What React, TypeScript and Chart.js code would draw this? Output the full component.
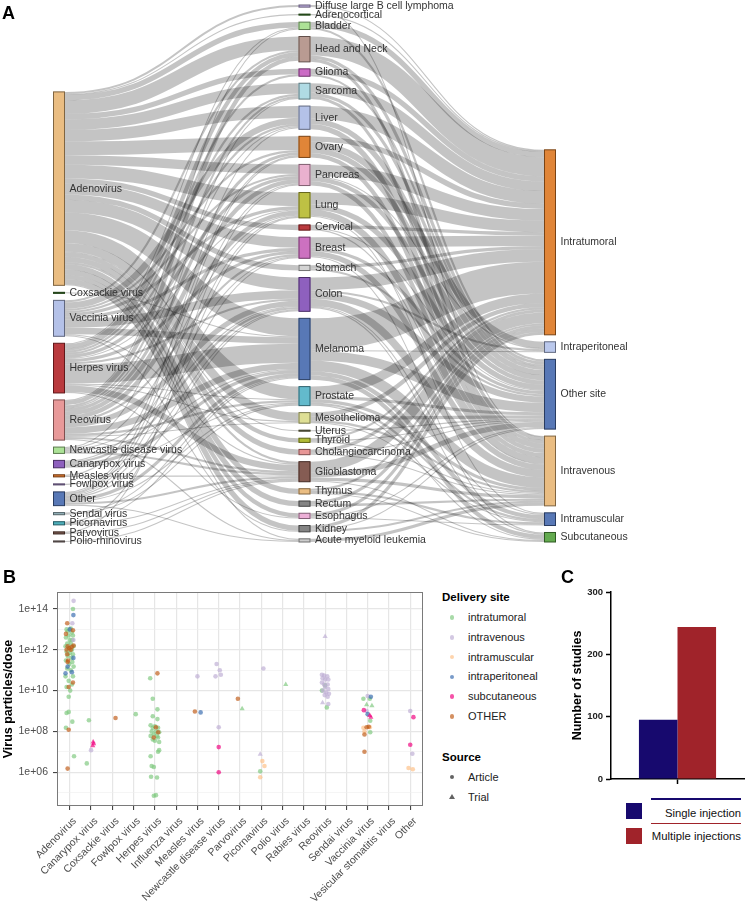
import React, { useEffect, useRef } from "react";
import { Chart, registerables } from "chart.js";

Chart.register(...registerables);

const FONT = "'Liberation Sans', Arial, Helvetica, sans-serif";

// ---------------- Panel A: Sankey data ----------------
const viruses = [
  "Adenovirus", "Coxsackie virus", "Vaccinia virus", "Herpes virus", "Reovirus",
  "Newcastle disease virus", "Canarypox virus", "Measles virus", "Fowlpox virus", "Other",
  "Sendai virus", "Picornavirus", "Parvovirus", "Polio-rhinovirus",
];
const virusColors = [
  "#e8b777", "#3d7a2e", "#aebce6", "#b3292e", "#e69090", "#a5e08e", "#8452b8",
  "#d2691e", "#a48ac8", "#4a6db0", "#8fb0b8", "#3fa8b5", "#6e4a40", "#8a7a78",
];
const cancers = [
  "Diffuse large B cell lymphoma", "Adrenocortical", "Bladder", "Head and Neck", "Glioma",
  "Sarcoma", "Liver", "Ovary", "Pancreas", "Lung", "Cervical", "Breast", "Stomach", "Colon",
  "Melanoma", "Prostate", "Mesothelioma", "Uterus", "Thyroid", "Cholangiocarcinoma",
  "Glioblastoma", "Thymus", "Rectum", "Esophagus", "Kidney", "Acute myeloid leukemia",
];
const cancerColors = [
  "#b9a7dc", "#3e7d2b", "#a6e08d", "#b39289", "#c75fc0", "#a9d8e2", "#aebde6", "#dd7b27",
  "#e8aacb", "#b9bc34", "#b3292e", "#c865bb", "#cfcfcf", "#8452b8", "#4a6db0", "#56b4c8",
  "#dbdc8c", "#7a7a55", "#aab526", "#e68e8e", "#7b4e44", "#e8b777", "#7a7a7a", "#eaa8d4",
  "#7a7a7a", "#c8c8c8",
];
const sites = ["Intratumoral", "Intraperitoneal", "Other site", "Intravenous", "Intramuscular", "Subcutaneous"];
const siteColors = ["#dd7b27", "#b4c3ea", "#4a6db0", "#e8b777", "#4a6db0", "#56a340"];

const virusCancerLinks: [string, string, number][] = [
  ["Adenovirus", "Diffuse large B cell lymphoma", 2], ["Adenovirus", "Adrenocortical", 1],
  ["Adenovirus", "Bladder", 5], ["Adenovirus", "Head and Neck", 13], ["Adenovirus", "Glioma", 5],
  ["Adenovirus", "Sarcoma", 10], ["Adenovirus", "Liver", 11], ["Adenovirus", "Ovary", 13],
  ["Adenovirus", "Pancreas", 9], ["Adenovirus", "Lung", 13], ["Adenovirus", "Cervical", 5],
  ["Adenovirus", "Breast", 10], ["Adenovirus", "Stomach", 5], ["Adenovirus", "Colon", 12],
  ["Adenovirus", "Melanoma", 17], ["Adenovirus", "Prostate", 12], ["Adenovirus", "Mesothelioma", 8],
  ["Adenovirus", "Uterus", 1], ["Adenovirus", "Thyroid", 4], ["Adenovirus", "Cholangiocarcinoma", 5],
  ["Adenovirus", "Glioblastoma", 2], ["Adenovirus", "Thymus", 5], ["Adenovirus", "Rectum", 5],
  ["Adenovirus", "Esophagus", 4], ["Adenovirus", "Kidney", 5], ["Adenovirus", "Acute myeloid leukemia", 1],
  ["Coxsackie virus", "Melanoma", 1],
  ["Vaccinia virus", "Liver", 6], ["Vaccinia virus", "Colon", 8], ["Vaccinia virus", "Melanoma", 6],
  ["Vaccinia virus", "Lung", 3], ["Vaccinia virus", "Breast", 3], ["Vaccinia virus", "Pancreas", 2],
  ["Vaccinia virus", "Head and Neck", 2], ["Vaccinia virus", "Kidney", 1], ["Vaccinia virus", "Glioblastoma", 1],
  ["Vaccinia virus", "Ovary", 2],
  ["Herpes virus", "Melanoma", 18], ["Herpes virus", "Head and Neck", 4], ["Herpes virus", "Glioblastoma", 6],
  ["Herpes virus", "Pancreas", 3], ["Herpes virus", "Breast", 3], ["Herpes virus", "Liver", 2],
  ["Herpes virus", "Colon", 2], ["Herpes virus", "Glioma", 2], ["Herpes virus", "Sarcoma", 2],
  ["Herpes virus", "Bladder", 1], ["Herpes virus", "Esophagus", 1], ["Herpes virus", "Prostate", 1],
  ["Herpes virus", "Lung", 1], ["Herpes virus", "Mesothelioma", 1],
  ["Reovirus", "Melanoma", 6], ["Reovirus", "Colon", 5], ["Reovirus", "Lung", 4], ["Reovirus", "Pancreas", 4],
  ["Reovirus", "Head and Neck", 4], ["Reovirus", "Ovary", 3], ["Reovirus", "Glioblastoma", 2],
  ["Reovirus", "Breast", 2], ["Reovirus", "Prostate", 2], ["Reovirus", "Sarcoma", 2], ["Reovirus", "Liver", 1],
  ["Reovirus", "Bladder", 1], ["Reovirus", "Mesothelioma", 1], ["Reovirus", "Acute myeloid leukemia", 1],
  ["Newcastle disease virus", "Glioblastoma", 2], ["Newcastle disease virus", "Melanoma", 1],
  ["Newcastle disease virus", "Colon", 1], ["Newcastle disease virus", "Sarcoma", 1], ["Newcastle disease virus", "Lung", 1],
  ["Canarypox virus", "Melanoma", 3], ["Canarypox virus", "Colon", 2], ["Canarypox virus", "Breast", 1],
  ["Canarypox virus", "Prostate", 1],
  ["Measles virus", "Ovary", 1], ["Measles virus", "Glioblastoma", 1],
  ["Fowlpox virus", "Colon", 1],
  ["Other", "Melanoma", 3], ["Other", "Glioblastoma", 2], ["Other", "Liver", 1], ["Other", "Breast", 1],
  ["Other", "Prostate", 1], ["Other", "Colon", 1], ["Other", "Lung", 1], ["Other", "Ovary", 1],
  ["Other", "Pancreas", 1], ["Other", "Acute myeloid leukemia", 1],
  ["Sendai virus", "Melanoma", 1], ["Sendai virus", "Prostate", 1],
  ["Picornavirus", "Melanoma", 1], ["Picornavirus", "Lung", 1], ["Picornavirus", "Glioblastoma", 1],
  ["Parvovirus", "Glioblastoma", 1], ["Parvovirus", "Pancreas", 1],
  ["Polio-rhinovirus", "Glioblastoma", 1],
];

const cancerSiteLinks: [string, string, number][] = [
  ["Diffuse large B cell lymphoma", "Intratumoral", 1], ["Diffuse large B cell lymphoma", "Intravenous", 1],
  ["Adrenocortical", "Intratumoral", 1],
  ["Bladder", "Intratumoral", 5], ["Bladder", "Other site", 2],
  ["Head and Neck", "Intratumoral", 18], ["Head and Neck", "Intravenous", 3], ["Head and Neck", "Other site", 3],
  ["Glioma", "Intratumoral", 5], ["Glioma", "Other site", 2],
  ["Sarcoma", "Intratumoral", 9], ["Sarcoma", "Intravenous", 3], ["Sarcoma", "Other site", 3],
  ["Liver", "Intratumoral", 12], ["Liver", "Intravenous", 5], ["Liver", "Other site", 5],
  ["Ovary", "Intraperitoneal", 6], ["Ovary", "Intratumoral", 5], ["Ovary", "Intravenous", 4], ["Ovary", "Other site", 5],
  ["Pancreas", "Intratumoral", 11], ["Pancreas", "Intravenous", 4], ["Pancreas", "Other site", 4], ["Pancreas", "Intraperitoneal", 1],
  ["Lung", "Intratumoral", 11], ["Lung", "Intravenous", 6], ["Lung", "Other site", 5], ["Lung", "Intramuscular", 1],
  ["Cervical", "Intratumoral", 3], ["Cervical", "Intravenous", 1], ["Cervical", "Other site", 1],
  ["Breast", "Intratumoral", 10], ["Breast", "Intravenous", 5], ["Breast", "Other site", 3], ["Breast", "Subcutaneous", 1],
  ["Stomach", "Intratumoral", 3], ["Stomach", "Other site", 2],
  ["Colon", "Intratumoral", 12], ["Colon", "Intravenous", 7], ["Colon", "Other site", 6], ["Colon", "Intraperitoneal", 2],
  ["Colon", "Intramuscular", 1], ["Colon", "Subcutaneous", 1],
  ["Melanoma", "Intratumoral", 30], ["Melanoma", "Intravenous", 10], ["Melanoma", "Other site", 9],
  ["Melanoma", "Intramuscular", 4], ["Melanoma", "Subcutaneous", 4], ["Melanoma", "Intraperitoneal", 1],
  ["Prostate", "Intratumoral", 9], ["Prostate", "Intravenous", 3], ["Prostate", "Other site", 3],
  ["Prostate", "Intramuscular", 2], ["Prostate", "Subcutaneous", 1],
  ["Mesothelioma", "Intratumoral", 4], ["Mesothelioma", "Other site", 3], ["Mesothelioma", "Intravenous", 2],
  ["Mesothelioma", "Intramuscular", 1],
  ["Uterus", "Other site", 1],
  ["Thyroid", "Intratumoral", 2], ["Thyroid", "Intravenous", 1], ["Thyroid", "Other site", 1],
  ["Cholangiocarcinoma", "Intratumoral", 3], ["Cholangiocarcinoma", "Intravenous", 1], ["Cholangiocarcinoma", "Other site", 1],
  ["Glioblastoma", "Intratumoral", 10], ["Glioblastoma", "Other site", 5], ["Glioblastoma", "Intravenous", 3],
  ["Glioblastoma", "Subcutaneous", 1],
  ["Thymus", "Intratumoral", 2], ["Thymus", "Intramuscular", 2], ["Thymus", "Subcutaneous", 1],
  ["Rectum", "Intratumoral", 3], ["Rectum", "Intravenous", 2],
  ["Esophagus", "Intratumoral", 3], ["Esophagus", "Other site", 1], ["Esophagus", "Intramuscular", 1],
  ["Kidney", "Intratumoral", 3], ["Kidney", "Intravenous", 2], ["Kidney", "Other site", 1],
  ["Acute myeloid leukemia", "Intravenous", 3],
];

// ---------------- Panel B data ----------------
const bCategories = [
  "Adenovirus", "Canarypox virus", "Coxsackie virus", "Fowlpox virus", "Herpes virus",
  "Influenza virus", "Measles virus", "Newcastle disease virus", "Parvovirus", "Picornavirus",
  "Polio virus", "Rabies virus", "Reovirus", "Sendai virus", "Vaccinia virus",
  "Vesicular stomatitis virus", "Other",
];
const bYTicks = [1e5, 1e6, 1e7, 1e8, 1e9, 1e10, 1e11, 1e12, 1e13, 1e14];

// [category index, jitter, virus particles/dose, trial(1) or article(0)]
type Pt = [number, number, number, number];
const intratumoral: Pt[] = [
  [0, 0.15, 1e14, 0], [0, -0.15, 1e13, 0], [0, 0.05, 1.1e13, 0], [0, -0.1, 8e12, 0], [0, 0.1, 7e12, 0],
  [0, -0.05, 5e12, 0], [0, 0.15, 5e12, 0], [0, -0.18, 4e12, 0], [0, 0.0, 3e12, 0], [0, 0.12, 3e12, 0],
  [0, -0.12, 2e12, 0], [0, 0.05, 2e12, 0], [0, -0.2, 1.5e12, 0], [0, 0.18, 1.5e12, 0], [0, -0.05, 1.2e12, 0],
  [0, 0.1, 1e12, 0], [0, -0.15, 8e11, 0], [0, 0.0, 7e11, 0], [0, 0.15, 6e11, 0], [0, -0.1, 5e11, 0],
  [0, 0.08, 4e11, 0], [0, -0.18, 3e11, 0], [0, 0.12, 2.5e11, 0], [0, -0.02, 2e11, 0], [0, 0.18, 1.5e11, 0],
  [0, -0.12, 1.2e11, 0], [0, 0.05, 1e11, 0], [0, -0.2, 5e10, 0], [0, 0.15, 5e10, 0], [0, -0.05, 3e10, 0],
  [0, 0.1, 2e10, 0], [0, -0.15, 1.5e10, 0], [0, 0.02, 1e10, 0], [0, -0.05, 5e9, 0], [0, -0.15, 8e8, 0],
  [0, -0.05, 9e8, 0], [0, 0.12, 3e8, 0], [0, -0.18, 1.5e8, 0], [0, 0.2, 6e6, 0],
  [1, -0.1, 3.5e8, 0], [1, -0.2, 2.7e6, 0],
  [3, 0.1, 7e8, 0],
  [4, -0.22, 4e10, 0], [4, -0.1, 4e9, 0], [4, 0.12, 1.2e9, 0], [4, -0.1, 5.5e8, 0], [4, 0.12, 4e8, 0],
  [4, -0.2, 2e8, 0], [4, -0.1, 1.5e8, 0], [4, 0.0, 1.8e8, 0], [4, 0.15, 1.5e8, 0], [4, -0.15, 1e8, 0],
  [4, 0.05, 1e8, 0], [4, 0.2, 9e7, 0], [4, -0.05, 7e7, 0], [4, 0.1, 6e7, 0], [4, -0.2, 6e7, 0],
  [4, 0.15, 5e7, 0], [4, -0.1, 4e7, 0], [4, 0.0, 3.5e7, 0], [4, 0.2, 3e7, 0], [4, 0.2, 1.2e7, 0],
  [4, 0.15, 1e7, 0], [4, -0.2, 6e6, 0], [4, -0.15, 2e6, 0], [4, -0.05, 1.8e6, 0], [4, -0.18, 6e5, 0],
  [4, 0.1, 5.5e5, 0], [4, -0.05, 7e4, 0], [4, 0.05, 7.5e4, 0],
  [8, 0.1, 1.3e9, 1],
  [9, -0.05, 1.1e6, 0],
  [10, 0.15, 2e10, 1],
  [12, -0.15, 1e10, 0], [12, 0.08, 1.5e9, 0], [12, 0.0, 1.8e10, 0],
  [14, -0.2, 4e9, 0], [14, 0.1, 4e9, 0], [14, -0.05, 2e9, 1], [14, 0.2, 1.8e9, 1], [14, 0.12, 3.3e8, 0],
  [14, 0.12, 9e7, 0],
];
const intravenous: Pt[] = [
  [0, 0.18, 2.5e14, 0], [0, 0.12, 2e13, 0], [0, 0.17, 3e12, 0],
  [1, 0.0, 1.2e7, 0],
  [6, 0.0, 5e10, 0],
  [7, -0.1, 2e11, 0], [7, 0.05, 1e11, 0], [7, -0.15, 5e10, 0], [7, 0.1, 6e10, 0], [7, 0.0, 1.6e8, 0],
  [9, 0.1, 1.2e11, 0], [9, -0.05, 7.5e6, 1],
  [12, 0.0, 4.5e12, 1], [12, -0.15, 6e10, 0], [12, -0.05, 5.5e10, 0], [12, 0.1, 5e10, 0], [12, -0.12, 4e10, 0],
  [12, 0.0, 3.5e10, 0], [12, 0.15, 3.5e10, 0], [12, -0.15, 2.5e10, 0], [12, -0.05, 2e10, 0], [12, 0.12, 2e10, 0],
  [12, 0.0, 1.5e10, 0], [12, 0.15, 1.2e10, 0], [12, -0.1, 1e10, 0], [12, 0.05, 8e9, 0], [12, 0.18, 7e9, 0],
  [12, -0.02, 6e9, 0], [12, 0.12, 5e9, 0], [12, -0.12, 2.5e9, 1], [12, 0.15, 2.2e9, 0],
  [14, 0.0, 5.4e9, 0], [14, -0.05, 1e9, 0],
  [16, 0.0, 1e9, 0], [16, 0.1, 8e6, 0],
];
const intramuscular: Pt[] = [
  [9, 0.05, 3.5e6, 0], [9, 0.15, 2e6, 0], [9, -0.05, 5.6e5, 0],
  [14, -0.2, 1.5e8, 0], [14, 0.1, 1.6e8, 0], [14, -0.15, 1e8, 0],
  [16, -0.08, 1.6e6, 0], [16, 0.12, 1.4e6, 0],
];
const intraperitoneal: Pt[] = [
  [0, 0.17, 5e13, 0], [0, 0.0, 1e13, 0], [0, 0.17, 4e11, 0], [0, -0.2, 7e10, 0], [0, 0.1, 8e10, 0],
  [0, -0.1, 1.5e11, 0],
  [6, 0.15, 8.5e8, 0],
  [14, 0.15, 5e9, 0], [14, 0.0, 7e8, 0],
];
const subcutaneous: Pt[] = [
  [1, 0.1, 3e7, 1], [1, 0.12, 2.5e7, 1], [1, 0.08, 2e7, 1],
  [7, 0.0, 1.7e7, 0], [7, 0.0, 1e6, 0],
  [14, -0.18, 1.1e9, 0], [14, 0.1, 6e8, 1], [14, 0.15, 5e8, 1],
  [16, 0.15, 5e8, 0], [16, 0.0, 2.2e7, 0],
];
const otherSite: Pt[] = [
  [0, -0.12, 2e13, 0], [0, 0.15, 9e12, 0], [0, -0.18, 6e12, 0], [0, -0.1, 1.5e12, 0], [0, -0.02, 1.2e12, 0],
  [0, 0.1, 1.4e12, 0], [0, 0.18, 1.6e12, 0], [0, -0.15, 1e12, 0], [0, 0.05, 1e12, 0], [0, -0.12, 6e11, 0],
  [0, -0.08, 3e11, 0], [0, -0.1, 2.5e11, 0], [0, 0.15, 2.5e10, 0], [0, -0.05, 1.5e10, 0], [0, -0.05, 1.2e8, 0],
  [0, -0.1, 1.5e6, 0],
  [2, 0.15, 4.5e8, 0],
  [4, 0.12, 7e10, 0], [4, 0.05, 1.6e8, 0], [4, 0.15, 9e7, 0], [4, -0.05, 5e7, 0],
  [6, -0.12, 9.5e8, 0],
  [8, -0.1, 4e9, 0],
  [14, -0.05, 1.6e8, 0], [14, 0.05, 1.7e8, 0], [14, -0.15, 7e7, 0], [14, -0.15, 1e7, 0],
];
const deliveryLabels = ["intratumoral", "intravenous", "intramuscular", "intraperitoneal", "subcutaneous", "OTHER"];
const deliveryColors = [
  "rgba(127,201,127,0.68)", "rgba(190,174,212,0.68)", "rgba(253,192,134,0.68)",
  "rgba(56,108,176,0.68)", "rgba(240,2,127,0.68)", "rgba(191,91,23,0.68)",
];
const sourceLabels = ["Article", "Trial"];

// ---------------- Panel C data ----------------
const cLabels = ["Single injection", "Multiple injections"];
const cValues = [95, 244];
const cColors = ["#17096e", "#a0232a"];

// ---------------- Sankey layout ----------------
const NODE_W = 12;
const PAD = 6.6;

type SNode = { name: string; col: number; color: string; value: number; y: number; inV: number; outV: number; src: SLink[]; tgt: SLink[] };
type SLink = { s: SNode; t: SNode; v: number; sy: number; ty: number };

function buildSankey() {
  const cols = [viruses, cancers, sites];
  const colColors = [virusColors, cancerColors, siteColors];
  const map = new Map<string, SNode>();
  cols.forEach((names, c) =>
    names.forEach((n, i) =>
      map.set(n, { name: n, col: c, color: colColors[c][i], value: 0, y: 0, inV: 0, outV: 0, src: [], tgt: [] })
    )
  );
  const links: SLink[] = [...virusCancerLinks, ...cancerSiteLinks].map(([a, b, v]) => {
    const s = map.get(a)!;
    const t = map.get(b)!;
    const l: SLink = { s, t, v, sy: 0, ty: 0 };
    s.src.push(l);
    t.tgt.push(l);
    s.outV += v;
    t.inV += v;
    return l;
  });
  map.forEach((n) => (n.value = Math.max(n.inV, n.outV)));
  const totals = cols.map((names) => names.reduce((a, n) => a + map.get(n)!.value, 0) + (names.length - 1) * PAD);
  const H = Math.max(...totals);
  cols.forEach((names, c) => {
    let y = H - totals[c];
    names.forEach((n) => {
      const node = map.get(n)!;
      node.y = y;
      y += node.value + PAD;
    });
  });
  map.forEach((n) => {
    n.src.sort((a, b) => a.t.y - b.t.y);
    let sy = 0;
    n.src.forEach((l) => {
      l.sy = sy;
      sy += l.v;
    });
    n.tgt.sort((a, b) => a.s.y - b.s.y);
    let ty = 0;
    n.tgt.forEach((l) => {
      l.ty = ty;
      ty += l.v;
    });
  });
  return { nodes: [...map.values()], links, H };
}

function darker(hex: string, f: number) {
  const n = parseInt(hex.slice(1), 16);
  const r = Math.round(((n >> 16) & 255) * f);
  const g = Math.round(((n >> 8) & 255) * f);
  const b = Math.round((n & 255) * f);
  return `rgb(${r},${g},${b})`;
}

function makeA(canvas: HTMLCanvasElement) {
  const sk = buildSankey();
  const plugin = {
    id: "sankey",
    afterDatasetsDraw(chart: any) {
      const { ctx } = chart;
      const xs = chart.scales.x;
      const ys = chart.scales.y;
      const py = (u: number) => ys.getPixelForValue(u);
      ctx.save();
      const links = [...sk.links].sort((a, b) => b.v - a.v);
      ctx.strokeStyle = "rgba(0,0,0,0.23)";
      ctx.lineCap = "butt";
      for (const l of links) {
        const x0 = xs.getPixelForValue(l.s.col) + NODE_W;
        const x1 = xs.getPixelForValue(l.t.col);
        const xi = (x0 + x1) / 2;
        const y0 = py(l.s.y + l.sy + l.v / 2);
        const y1 = py(l.t.y + l.ty + l.v / 2);
        const w = Math.max(1, Math.abs(py(l.v) - py(0)));
        ctx.lineWidth = w;
        ctx.beginPath();
        ctx.moveTo(x0, y0);
        ctx.bezierCurveTo(xi, y0, xi, y1, x1, y1);
        ctx.stroke();
      }
      for (const n of sk.nodes) {
        const x = xs.getPixelForValue(n.col);
        const yTop = py(n.y);
        const h = Math.max(1, py(n.y + n.value) - yTop);
        ctx.globalAlpha = 0.92;
        ctx.fillStyle = n.color;
        ctx.fillRect(x, yTop, NODE_W, h);
        ctx.globalAlpha = 1;
        ctx.strokeStyle = darker(n.color, 0.55);
        ctx.lineWidth = 1;
        ctx.strokeRect(x + 0.5, yTop, NODE_W - 1, h);
      }
      ctx.fillStyle = "#333";
      ctx.font = `10.5px ${FONT}`;
      ctx.textBaseline = "middle";
      ctx.textAlign = "left";
      for (const n of sk.nodes) {
        const x = xs.getPixelForValue(n.col) + NODE_W + 4.5;
        const yc = py(n.y + n.value / 2);
        ctx.fillText(n.name, x, yc);
      }
      ctx.restore();
    },
  };
  return new Chart(canvas, {
    type: "scatter",
    data: { datasets: [] },
    options: {
      responsive: false,
      animation: false,
      events: [],
      layout: { padding: { left: 53, right: 202, top: 5, bottom: 8 } },
      scales: {
        x: { type: "linear", min: 0, max: 2, display: false },
        y: { type: "linear", min: 0, max: sk.H, reverse: true, display: false },
      },
      plugins: { legend: { display: false }, tooltip: { enabled: false } },
    },
    plugins: [plugin],
  } as any);
}

function makeB(canvas: HTMLCanvasElement) {
  const isMajor = (v: number) => Math.round(Math.log10(v)) % 2 === 0;
  const borderPlugin = {
    id: "panelBorder",
    afterDatasetsDraw(chart: any) {
      const { ctx, chartArea: a } = chart;
      ctx.save();
      ctx.strokeStyle = "#7a7a7a";
      ctx.lineWidth = 1;
      ctx.strokeRect(a.left + 0.5, a.top + 0.5, a.right - a.left - 1, a.bottom - a.top - 1);
      ctx.restore();
    },
  };
  const sets = [intratumoral, intravenous, intramuscular, intraperitoneal, subcutaneous, otherSite];
  const datasets = sets.map((pts, i) => ({
    label: deliveryLabels[i],
    data: pts.map(([c, j, v, t]) => ({ x: c + j, y: v, t })),
    pointBackgroundColor: deliveryColors[i],
    backgroundColor: deliveryColors[i],
    pointBorderWidth: 0,
    pointStyle: (ctx: any) => (ctx.raw && ctx.raw.t ? "triangle" : "circle"),
    pointRadius: (ctx: any) => (ctx.raw && ctx.raw.t ? 3 : 2.3),
    showLine: false,
    order: 6 - i,
  }));
  return new Chart(canvas, {
    type: "scatter",
    data: { datasets },
    options: {
      responsive: false,
      animation: false,
      events: [],
      layout: { padding: { left: 0, right: 17, top: 32, bottom: 0 } },
      plugins: { legend: { display: false }, tooltip: { enabled: false } },
      scales: {
        x: {
          type: "linear",
          min: -0.6,
          max: 16.6,
          afterBuildTicks: (s: any) => {
            s.ticks = bCategories.map((_, i) => ({ value: i }));
          },
          afterFit: (s: any) => {
            s.height = 100;
          },
          ticks: {
            autoSkip: false,
            minRotation: 45,
            maxRotation: 45,
            padding: 5,
            labelOffset: 5,
            color: "#4d4d4d",
            font: { family: FONT, size: 10.5 },
            callback: (v: any) => bCategories[Math.round(v)] ?? "",
          },
          grid: { color: "#e6e6e6", lineWidth: 1.2, tickColor: "#333", tickLength: 4, tickWidth: 1 },
          border: { display: false },
        },
        y: {
          type: "logarithmic",
          min: 2.2e4,
          max: 6.8e14,
          afterBuildTicks: (s: any) => {
            s.ticks = bYTicks.map((v) => ({ value: v }));
          },
          afterFit: (s: any) => {
            s.width = 57;
          },
          ticks: {
            padding: 5,
            color: "#4d4d4d",
            font: { family: FONT, size: 10.5 },
            callback: (v: any) => {
              const e = Math.round(Math.log10(v));
              return e % 2 === 0 ? `1e+${String(e).padStart(2, "0")}` : "";
            },
          },
          grid: {
            color: (c: any) => (c.tick && isMajor(c.tick.value) ? "#e6e6e6" : "#efefef"),
            lineWidth: (c: any) => (c.tick && isMajor(c.tick.value) ? 1.2 : 0.6),
            tickColor: (c: any) => (c.tick && isMajor(c.tick.value) ? "#333" : "rgba(0,0,0,0)"),
            tickLength: 4,
            tickWidth: 1,
          },
          border: { display: false },
          title: {
            display: true,
            text: "Virus particles/dose",
            color: "#000",
            font: { family: FONT, size: 12.5, weight: "bold" },
            padding: { top: 1, bottom: 0 },
          },
        },
      },
    },
    plugins: [borderPlugin],
  } as any);
}

function makeC(canvas: HTMLCanvasElement) {
  return new Chart(canvas, {
    type: "bar",
    data: {
      labels: [""],
      datasets: cLabels.map((l, i) => ({
        label: l,
        data: [cValues[i]],
        backgroundColor: cColors[i],
        borderWidth: 0,
        categoryPercentage: 0.58,
        barPercentage: 1,
      })),
    },
    options: {
      responsive: false,
      animation: false,
      events: [],
      layout: { padding: { left: 0, right: 2, top: 32, bottom: 0 } },
      plugins: { legend: { display: false }, tooltip: { enabled: false } },
      scales: {
        x: {
          afterFit: (s: any) => {
            s.height = 11;
          },
          ticks: { display: false },
          grid: { display: true, drawOnChartArea: false, drawTicks: true, tickLength: 5, offset: false, tickColor: "#000", tickWidth: 1.5 },
          border: { display: true, color: "#000", width: 1.5 },
        },
        y: {
          min: 0,
          max: 300,
          afterFit: (s: any) => {
            s.width = 61;
          },
          ticks: { stepSize: 100, padding: 3, color: "#222", font: { family: FONT, size: 9.5, weight: "bold" } },
          grid: { drawOnChartArea: false, tickLength: 5, tickColor: "#000", tickWidth: 1.5 },
          border: { display: true, color: "#000", width: 1.5 },
          title: {
            display: true,
            text: "Number of studies",
            color: "#000",
            font: { family: FONT, size: 12.5, weight: "bold" },
            padding: { top: 20, bottom: 0 },
          },
        },
      },
    },
  } as any);
}

const abs = (o: React.CSSProperties): React.CSSProperties => ({ position: "absolute", ...o });

export default function App() {
  const aRef = useRef<HTMLCanvasElement>(null);
  const bRef = useRef<HTMLCanvasElement>(null);
  const cRef = useRef<HTMLCanvasElement>(null);

  useEffect(() => {
    const charts = [makeA(aRef.current!), makeB(bRef.current!), makeC(cRef.current!)];
    return () => charts.forEach((c) => c.destroy());
  }, []);

  const letter = { fontSize: 18, fontWeight: "bold" as const, lineHeight: "18px", color: "#000" };
  const legText = { fontSize: 11, lineHeight: "14px", color: "#222", whiteSpace: "nowrap" as const };

  return (
    <div style={abs({ left: 0, top: 0, width: 746, height: 906, background: "#fff", fontFamily: FONT, overflow: "hidden" })}>
      <canvas ref={aRef} width={746} height={550} style={abs({ left: 0, top: 0, width: 746, height: 550 })} />
      <canvas ref={bRef} width={440} height={346} style={abs({ left: 0, top: 560, width: 440, height: 346 })} />
      <canvas ref={cRef} width={196} height={230} style={abs({ left: 550, top: 560, width: 196, height: 230 })} />

      <div style={abs({ left: 2, top: 4, ...letter })}>A</div>
      <div style={abs({ left: 3, top: 568, ...letter })}>B</div>
      <div style={abs({ left: 561, top: 568, ...letter })}>C</div>

      {/* Panel B legend */}
      <div style={abs({ left: 442, top: 590, fontSize: 11.5, lineHeight: "14px", fontWeight: "bold", color: "#000" })}>Delivery site</div>
      {deliveryLabels.map((s, i) => (
        <React.Fragment key={s}>
          <div style={abs({ left: 452 - 2.4, top: 617.5 + i * 19.8 - 2.4, width: 4.8, height: 4.8, borderRadius: "50%", background: deliveryColors[i] })} />
          <div style={abs({ left: 468, top: 617.5 + i * 19.8 - 7.5, ...legText })}>{s}</div>
        </React.Fragment>
      ))}
      <div style={abs({ left: 442, top: 750, fontSize: 11.5, lineHeight: "14px", fontWeight: "bold", color: "#000" })}>Source</div>
      <div style={abs({ left: 452 - 2.4, top: 777 - 2.4, width: 4.8, height: 4.8, borderRadius: "50%", background: "rgba(60,60,60,0.8)" })} />
      <div style={abs({ left: 468, top: 777 - 7.5, ...legText })}>{sourceLabels[0]}</div>
      <div
        style={abs({
          left: 452 - 3.2,
          top: 797 - 3,
          width: 0,
          height: 0,
          borderLeft: "3.2px solid transparent",
          borderRight: "3.2px solid transparent",
          borderBottom: "5.5px solid rgba(60,60,60,0.8)",
        })}
      />
      <div style={abs({ left: 468, top: 797 - 7.5, ...legText })}>{sourceLabels[1]}</div>

      {/* Panel C legend */}
      <div style={abs({ left: 626, top: 803, width: 16, height: 16, background: cColors[0] })} />
      <div style={abs({ left: 626, top: 828, width: 16, height: 16, background: cColors[1] })} />
      <div style={abs({ left: 651, top: 798, width: 90, height: 1.5, background: cColors[0] })} />
      <div style={abs({ left: 651, top: 822.5, width: 90, height: 1.5, background: cColors[1] })} />
      <div style={abs({ right: 5, top: 805.5, fontSize: 11.3, lineHeight: "14px", color: "#111", whiteSpace: "nowrap" })}>{cLabels[0]}</div>
      <div style={abs({ right: 5, top: 829, fontSize: 11.3, lineHeight: "14px", color: "#111", whiteSpace: "nowrap" })}>{cLabels[1]}</div>
    </div>
  );
}
